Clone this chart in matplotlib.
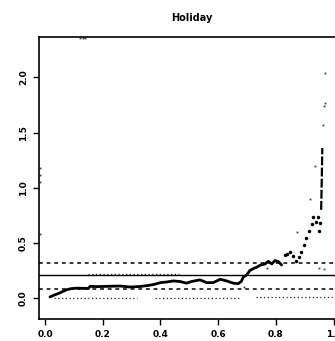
import matplotlib
matplotlib.use('Agg')
import matplotlib.pyplot as plt

# main running curve (thick)
curve_x = [0.017, 0.03, 0.045, 0.058, 0.075, 0.09, 0.11, 0.13, 0.15, 0.156, 0.18, 0.214, 0.24,
           0.26, 0.295, 0.33, 0.36, 0.38, 0.40, 0.42, 0.444, 0.468, 0.49, 0.508, 0.537, 0.56,
           0.583, 0.607, 0.63, 0.652, 0.669, 0.68, 0.687, 0.699, 0.71, 0.722, 0.734, 0.745,
           0.763, 0.774, 0.786, 0.797, 0.809, 0.82]
curve_y = [0.01, 0.025, 0.04, 0.055, 0.076, 0.085, 0.09, 0.088, 0.087, 0.106, 0.104, 0.106, 0.108,
           0.109, 0.10, 0.105, 0.115, 0.125, 0.14, 0.145, 0.155, 0.15, 0.135, 0.15, 0.165, 0.14,
           0.14, 0.17, 0.155, 0.135, 0.13, 0.15, 0.19, 0.21, 0.25, 0.267, 0.28, 0.297,
           0.31, 0.333, 0.31, 0.34, 0.33, 0.30]

# scattered big dots near the end
dots_x = [0.832, 0.84, 0.85, 0.86, 0.87, 0.88, 0.888, 0.897, 0.905, 0.915, 0.925, 0.928, 0.938,
          0.946, 0.951, 0.954]
dots_y = [0.39, 0.40, 0.42, 0.38, 0.34, 0.37, 0.42, 0.48, 0.54, 0.61, 0.675, 0.735, 0.69,
          0.735, 0.61, 0.68]

tail_x = [0.957, 0.958, 0.959, 0.96, 0.961]
tail_y = [0.80, 0.92, 1.05, 1.20, 1.36]

# small grey points
small_x = [0.97, 0.97, 0.967, 0.963, 0.936, 0.92, 0.872, 0.77, 0.967, 0.69, 0.95,
           0.12, 0.13, 0.14, -0.016, -0.016, -0.016, -0.016]
small_y = [2.04, 1.77, 1.74, 1.57, 1.20, 0.895, 0.60, 0.27, 0.26, 0.10, 0.27,
           2.36, 2.36, 2.36, 1.05, 1.12, 1.18, 0.58]

# dotted runs of small points (start, end, level)
runs = [(0.03, 0.32, 0.0), (0.38, 0.68, 0.0), (0.73, 1.04, 0.005), (0.15, 0.47, 0.215)]

mean_level = 0.206
upper_level = 0.318
lower_level = 0.085

xticks = [0.0, 0.2, 0.4, 0.6, 0.8, 1.0]
yticks = [0.0, 0.5, 1.0, 1.5, 2.0]

fig = plt.figure(figsize=(3.35, 3.41), dpi=100)
ax = fig.add_axes([0.1164, 0.0645, 0.9137, 0.828])

for x0, x1, lv in runs:
    ax.hlines(lv, x0, x1, colors='0.15', linestyles=(0, (1, 2)), linewidth=0.9)

ax.axhline(mean_level, color='black', linewidth=1.0)
ax.axhline(upper_level, color='black', linewidth=1.1, linestyle=(0, (2.5, 2.5)))
ax.axhline(lower_level, color='black', linewidth=1.1, linestyle=(0, (2.5, 2.5)))

ax.plot(curve_x, curve_y, color='black', linewidth=2.0, solid_capstyle='round')
ax.plot(dots_x, dots_y, 'o', color='black', markersize=2.5, markeredgewidth=0)
ax.plot(tail_x, tail_y, color='black', linewidth=1.6, linestyle=(0, (4, 1)))
ax.plot(small_x, small_y, 's', color='0.25', markersize=1.3, markeredgewidth=0)

ax.set_xlim(-0.021, 1.04)
ax.set_ylim(-0.19, 2.37)
ax.set_xticks(xticks)
ax.set_yticks(yticks)
ax.set_xticklabels(['%.1f' % v for v in xticks], fontsize=6.5, fontweight='bold')
ax.set_yticklabels(['%.1f' % v for v in yticks], fontsize=6.5, fontweight='bold',
                   rotation=90, va='center')
ax.tick_params(direction='out', length=4, width=1.0, pad=4)
for s in ax.spines.values():
    s.set_linewidth(1.2)

ax.set_title('Holiday', fontsize=7, fontweight='bold', pad=11)

fig.savefig('out.png', dpi=100)
